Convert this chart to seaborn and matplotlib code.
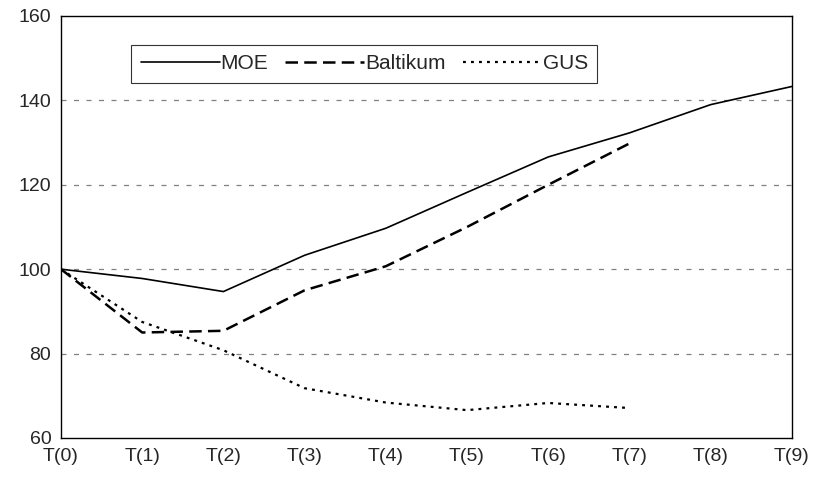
import matplotlib
matplotlib.use("Agg")
import matplotlib.pyplot as plt
import pandas as pd
import seaborn as sns

periods = ["T(0)", "T(1)", "T(2)", "T(3)", "T(4)", "T(5)", "T(6)", "T(7)", "T(8)", "T(9)"]
moe = [100, 97.8, 94.7, 103.3, 109.7, 118.2, 126.6, 132.3, 139.0, 143.3]
baltikum = [100, 85.0, 85.4, 95.0, 100.7, 110.0, 120.0, 129.8]
gus = [100, 87.5, 80.8, 71.8, 68.4, 66.6, 68.3, 67.1]

frames = []
for name, vals in [("MOE", moe), ("Baltikum", baltikum), ("GUS", gus)]:
    frames.append(pd.DataFrame({"x": range(len(vals)), "value": vals, "series": name}))
df = pd.concat(frames, ignore_index=True)

sns.set_style("white")
plt.rcParams["font.family"] = ["Liberation Sans", "DejaVu Sans"]

fig = plt.figure(figsize=(8.13, 4.79), dpi=100)
ax = fig.add_axes([0.075, 0.0856, 0.899, 0.881])

styles = {
    "MOE": dict(linestyle="-", linewidth=1.2),
    "Baltikum": dict(linestyle=(0, (5, 2.5)), linewidth=1.8),
    "GUS": dict(linestyle=(0, (1.3, 2.3)), linewidth=1.6),
}
for name in ["MOE", "Baltikum", "GUS"]:
    sns.lineplot(data=df[df["series"] == name], x="x", y="value", ax=ax,
                 color="black", label=name, **styles[name])

for yv in [80, 100, 120, 140]:
    ax.axhline(yv, color="#808080", linestyle=(0, (4, 6)), linewidth=0.9, zorder=0)

ax.set_xlim(0, 9)
ax.set_ylim(60, 160)
ax.set_xticks(range(len(periods)))
ax.set_xticklabels(periods)
ax.set_yticks(range(60, 161, 20))
ax.set_xlabel("")
ax.set_ylabel("")
ax.tick_params(axis="x", direction="inout", length=8, width=1, labelsize=14, pad=3)
ax.tick_params(axis="y", direction="out", length=5, width=1, labelsize=14, pad=2)
for s in ax.spines.values():
    s.set_color("black")
    s.set_linewidth(1)

leg = ax.legend(ncol=3, loc="upper left", bbox_to_anchor=(0.096, 0.931),
                borderaxespad=0, frameon=True, fancybox=False, fontsize=15,
                handlelength=3.8, handletextpad=0.05, columnspacing=0.8,
                borderpad=0.45)
leg.get_frame().set_edgecolor("black")
leg.get_frame().set_linewidth(0.8)

fig.savefig("out.png", dpi=100)
